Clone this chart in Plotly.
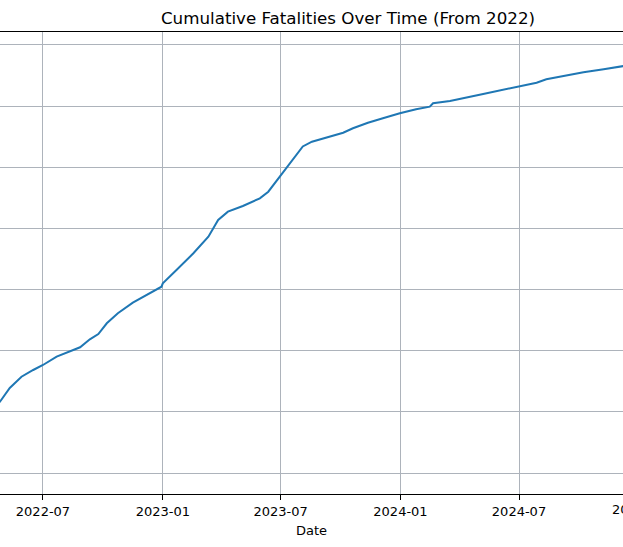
import pandas as pd
import plotly.graph_objects as go

dates = [
    "2022-01-01", "2022-04-26", "2022-05-11", "2022-05-29", "2022-06-16", "2022-07-01",
    "2022-07-22", "2022-08-11", "2022-08-27", "2022-09-11", "2022-09-24", "2022-10-07",
    "2022-10-24", "2022-11-16", "2022-12-07", "2022-12-30", "2023-01-01", "2023-01-12",
    "2023-01-22", "2023-02-17", "2023-03-12", "2023-03-27", "2023-04-11", "2023-05-04",
    "2023-05-30", "2023-06-12", "2023-07-02", "2023-07-20", "2023-08-04", "2023-08-18",
    "2023-09-15", "2023-10-05", "2023-10-20", "2023-11-12", "2023-12-05", "2023-12-31",
    "2024-01-25", "2024-02-15", "2024-02-20", "2024-03-17", "2024-05-07", "2024-06-17",
    "2024-07-02", "2024-07-28", "2024-08-12", "2024-09-07", "2024-10-08", "2024-11-08",
    "2024-12-09", "2025-07-22",
]
cumulative = [
    0, 5830, 6950, 7875, 8422, 8831,
    9510, 9919, 10279, 10933, 11366, 12241,
    13059, 13925, 14555, 15234, 15512, 16052,
    16599, 17965, 19322, 20688, 21367, 21833,
    22462, 23002, 24367, 25676, 26698, 27091,
    27556, 27826, 28186, 28644, 29004, 29413,
    29740, 29953, 30230, 30418, 30991, 31457,
    31645, 31915, 32193, 32463, 32765, 33011,
    33280, 34343,
]
y_ticks = [0, 5000, 10000, 15000, 20000, 25000, 30000, 35000]
x_start, x_end = "2022-04-26", "2024-12-07 17:00"
partial_tick = "2025-01-01"

GRID = "#adb3bb"

fig = go.Figure()
fig.add_trace(go.Scatter(
    x=dates, y=cumulative, mode="lines",
    line=dict(color="#1f77b4", width=2),
    showlegend=False,
))

# tick label just beyond the visible range (partially cut at the right edge)
t0, t1, tp = pd.Timestamp(x_start), pd.Timestamp(x_end), pd.Timestamp(partial_tick)
frac = (tp - t0) / (t1 - t0)
fig.add_annotation(
    x=frac, xref="paper", y=-16 / 462, yref="paper",
    text=tp.strftime("%Y-%m"), showarrow=False,
    xanchor="center", yanchor="middle",
    font=dict(size=13, family="DejaVu Sans", color="black"),
)

fig.update_layout(
    width=623, height=547,
    margin=dict(l=0, r=0, t=32, b=53),
    paper_bgcolor="white", plot_bgcolor="white",
    font=dict(family="DejaVu Sans", color="black", size=13),
    title=dict(
        text="Cumulative Fatalities Over Time (From 2022)",
        x=348 / 623, xref="paper", xanchor="center",
        y=1 - 18 / 547, yref="container", yanchor="middle",
        font=dict(size=16.7, family="DejaVu Sans", color="black"),
    ),
    xaxis=dict(
        type="date",
        range=[x_start, x_end],
        tick0="2022-01-01", dtick="M6", tickformat="%Y-%m",
        showgrid=True, gridcolor=GRID, gridwidth=1,
        showline=True, linecolor="black", linewidth=1, mirror=True,
        ticks="outside", ticklen=5, tickcolor="black", tickwidth=1,
        tickfont=dict(size=13),
        title=dict(text="Date", font=dict(size=13), standoff=8),
        zeroline=False,
    ),
    yaxis=dict(
        range=[-1717, 36059],
        tickvals=y_ticks, showticklabels=False,
        showgrid=True, gridcolor=GRID, gridwidth=1,
        showline=False, zeroline=False, ticks="",
    ),
)

fig.write_html(
    "out.html",
    config={"displayModeBar": False},
    post_script="document.body.style.margin='0';",
)
